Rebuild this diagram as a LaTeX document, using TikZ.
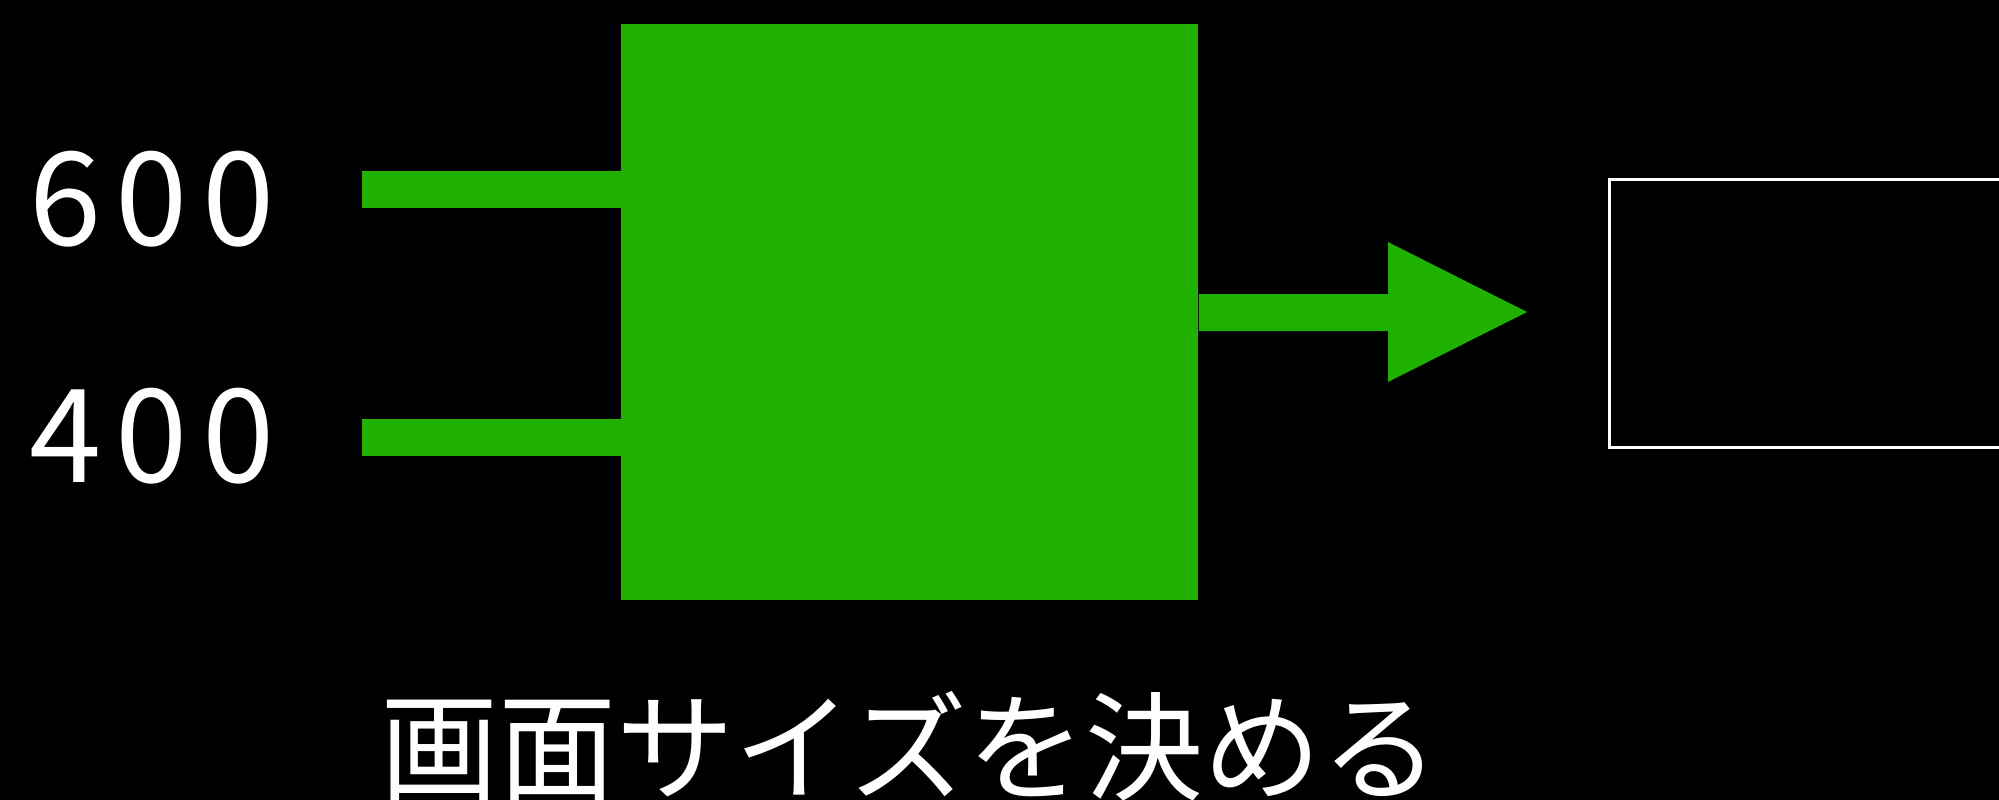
\documentclass[tikz,border=0pt]{standalone}
\usepackage{fontspec}
\newfontfamily\cjk{Noto Sans CJK JP}
\newfontfamily\digits[LetterSpace=11]{Noto Sans CJK JP}
\definecolor{grn}{RGB}{31,176,0}
\tikzset{
  lbl/.style={text=white, inner sep=0pt, anchor=base west, font=\digits\fontsize{65pt}{65pt}\selectfont},
  bar/.style={grn, line width=18.5pt},
}
\begin{document}
\begin{tikzpicture}[x=0.5pt, y=-0.5pt]
\useasboundingbox (0,0) rectangle (1999,799);
\fill[black] (-20,-20) rectangle (2020,820);
% main green box
\node[fill=grn, draw=none, minimum width=288.5pt, minimum height=288pt, inner sep=0pt, anchor=north west] (box) at (621,24) {};
% input labels
\node[lbl] (w) at (29,245) {600};
\node[lbl] (h) at (29,482) {400};
% input bars
\coordinate (in1) at (362,189.5);
\coordinate (in2) at (362,437.5);
\draw[bar] (in1) -- (in1 -| box.west);
\draw[bar] (in2) -- (in2 -| box.west);
% output arrow
\coordinate (tip) at (1527,312);
\fill[grn] (box.east |- 0,294) -- (1388,294) -- (1388,242) -- (tip) -- (1388,382) -- (1388,331) -- (box.east |- 0,331) -- cycle;
% screen rectangle
\node[draw=white, line width=1.5pt, minimum width=200pt, minimum height=134pt, inner sep=0pt, anchor=north west] (screen) at (1608,178) {};
% caption
\node[text=white, inner sep=0pt, anchor=base, font=\cjk\fontsize{59pt}{59pt}\selectfont] (cap) at (910,791) {画面サイズを決める};
\end{tikzpicture}
\end{document}
